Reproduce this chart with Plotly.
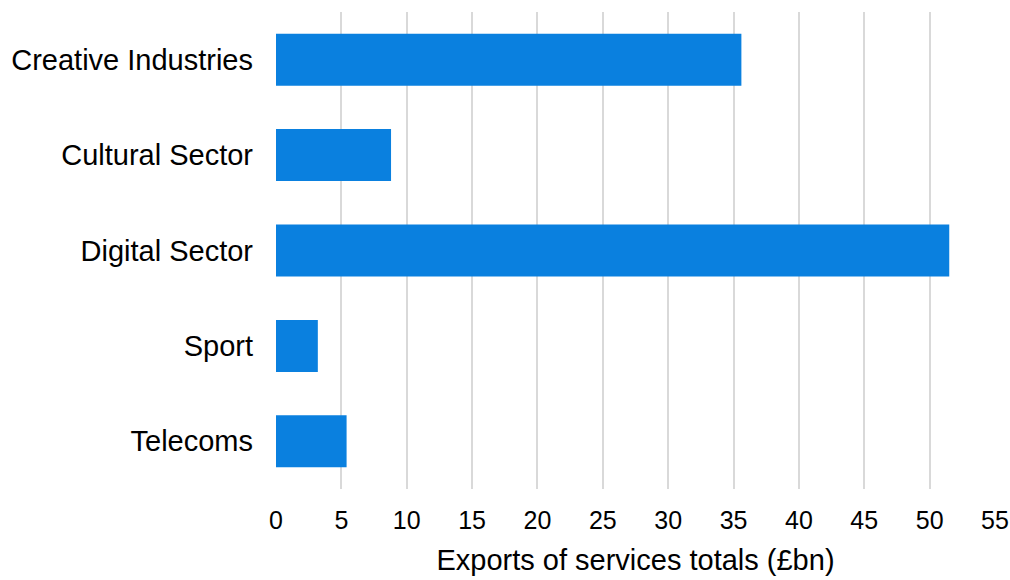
import plotly.graph_objects as go

categories = ["Creative Industries", "Cultural Sector", "Digital Sector", "Sport", "Telecoms"]
values = [35.6, 8.8, 51.5, 3.2, 5.4]
x_ticks = [0, 5, 10, 15, 20, 25, 30, 35, 40, 45, 50, 55]
x_title = "Exports of services totals (£bn)"

FONT = "Liberation Sans, Arial, sans-serif"

fig = go.Figure(go.Bar(
    x=values, y=categories, orientation="h",
    marker=dict(color="#0A80DF", line=dict(width=0)),
    hoverinfo="x+y",
))

fig.update_layout(
    width=1010, height=580,
    margin=dict(l=276, r=15, t=12, b=91),
    paper_bgcolor="white", plot_bgcolor="white",
    bargap=0.455,
    showlegend=False,
    font=dict(family=FONT, size=27, color="#000000"),
)
fig.update_xaxes(
    range=[0, 55], tickvals=x_ticks, ticktext=[str(v) for v in x_ticks],
    showgrid=True, gridcolor="#D9D9D9", gridwidth=2,
    zeroline=False, showline=False, automargin=False,
    tickfont=dict(family=FONT, size=25, color="#000000"),
    ticklabelstandoff=14,
    title=dict(text=x_title, font=dict(family=FONT, size=29, color="#000000"), standoff=16),
)
fig.update_yaxes(
    autorange="reversed", showgrid=False, zeroline=False, showline=False,
    automargin=False,
    tickfont=dict(family=FONT, size=29, color="#000000"),
    ticklabelstandoff=22,
)

fig.write_html("out.html")
